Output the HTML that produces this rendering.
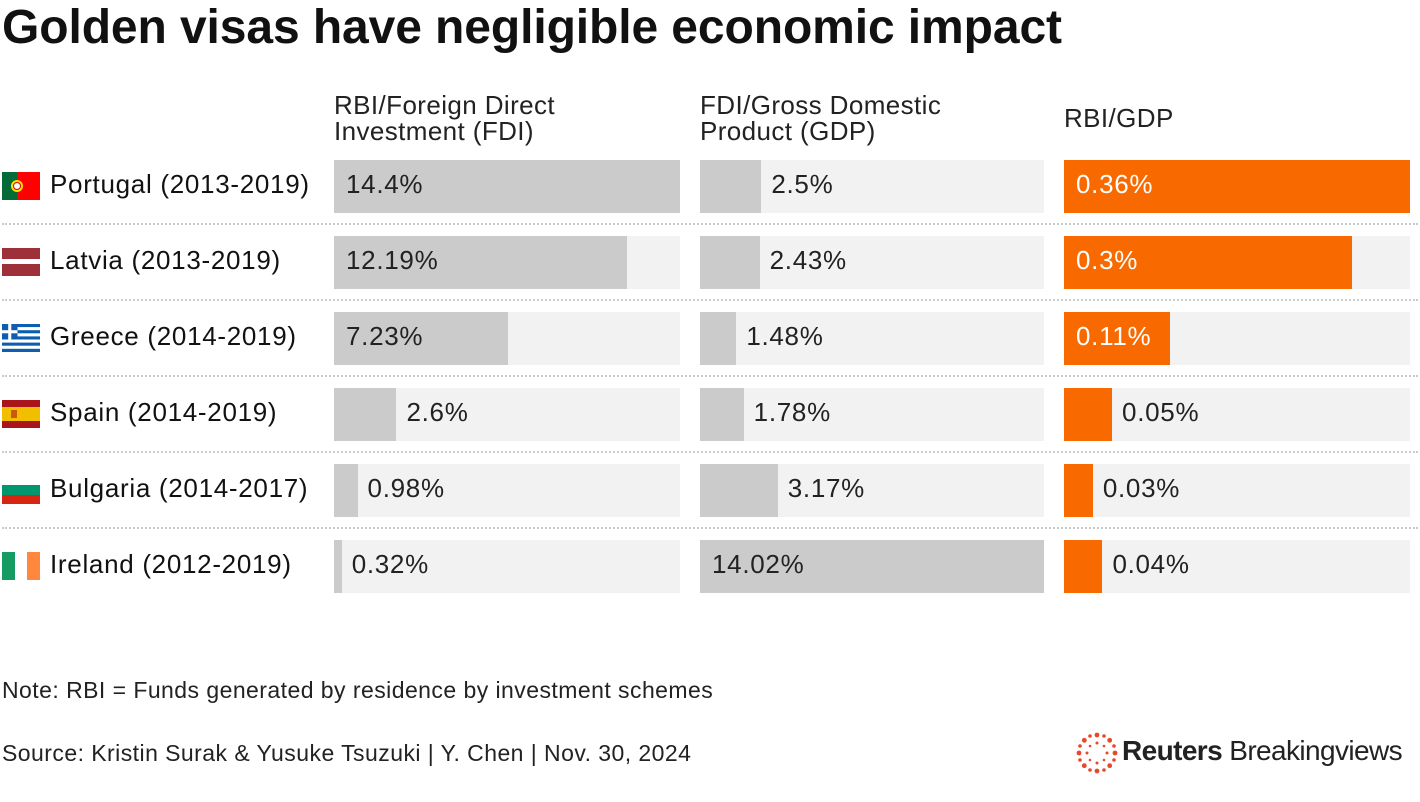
<!DOCTYPE html>
<html><head><meta charset="utf-8"><style>
body{margin:0;width:1420px;height:802px;background:#fff;font-family:"Liberation Sans",Arial,sans-serif;color:#111;position:relative;overflow:hidden}
.abs{position:absolute}
.title{left:2px;top:0px;font-size:48px;font-weight:bold;letter-spacing:-0.1px;white-space:nowrap}
.hdr{font-size:26px;line-height:26px;color:#222;letter-spacing:0.4px;white-space:nowrap}
.lab{font-size:26px;white-space:nowrap;letter-spacing:0.7px}
.sep{height:0;border-top:2px dotted #ccc;left:2px;width:1416px}
.foot{font-size:23px;color:#222;white-space:nowrap;letter-spacing:0.45px}
</style></head><body>
<div class="abs title">Golden visas have negligible economic impact</div>
<div class="abs hdr" style="left:334px;top:92px">RBI/Foreign Direct<br>Investment (FDI)</div>
<div class="abs hdr" style="left:700px;top:92px">FDI/Gross Domestic<br>Product (GDP)</div>
<div class="abs hdr" style="left:1064px;top:105px">RBI/GDP</div>
<div id="chart"></div>
<div class="abs foot" style="left:2px;top:677px">Note: RBI = Funds generated by residence by investment schemes</div>
<div class="abs foot" style="left:2px;top:740px">Source: Kristin Surak &amp; Yusuke Tsuzuki | Y. Chen | Nov. 30, 2024</div>
<div class="abs" style="left:1076px;top:732px">
<svg width="42" height="42" viewBox="-21 -21 42 42"><g fill="#e8472b">
<circle r="2.4" cx="0" cy="-18"/><circle r="2.4" cx="12.7" cy="-12.7"/><circle r="2.4" cx="18" cy="0"/><circle r="2.4" cx="12.7" cy="12.7"/><circle r="2.4" cx="0" cy="18"/><circle r="2.4" cx="-12.7" cy="12.7"/><circle r="2.4" cx="-18" cy="0"/><circle r="2.4" cx="-12.7" cy="-12.7"/>
<circle r="1.8" cx="7" cy="-17"/><circle r="1.8" cx="17" cy="-7"/><circle r="1.8" cx="17" cy="7"/><circle r="1.8" cx="7" cy="17"/><circle r="1.8" cx="-7" cy="17"/><circle r="1.8" cx="-17" cy="7"/><circle r="1.8" cx="-17" cy="-7"/><circle r="1.8" cx="-7" cy="-17"/>
<circle r="1.5" cx="0" cy="-10"/><circle r="1.5" cx="10" cy="0"/><circle r="1.5" cx="0" cy="10"/><circle r="1.5" cx="-10" cy="0"/><circle r="1.3" cx="7" cy="-7"/><circle r="1.3" cx="7" cy="7"/><circle r="1.3" cx="-7" cy="7"/><circle r="1.3" cx="-7" cy="-7"/></g></svg></div>
<div class="abs" style="left:1122px;top:735px;font-size:28px;letter-spacing:-0.6px;color:#222;white-space:nowrap"><b>Reuters</b> Breakingviews</div>
<script>
const countries=["Portugal (2013-2019)","Latvia (2013-2019)","Greece (2014-2019)","Spain (2014-2019)","Bulgaria (2014-2017)","Ireland (2012-2019)"];
const rbiFdi=[14.4,12.19,7.23,2.6,0.98,0.32];
const rbiFdiLabels=["14.4%","12.19%","7.23%","2.6%","0.98%","0.32%"];
const fdiGdp=[2.5,2.43,1.48,1.78,3.17,14.02];
const fdiGdpLabels=["2.5%","2.43%","1.48%","1.78%","3.17%","14.02%"];
const rbiGdp=[0.36,0.3,0.11,0.05,0.03,0.04];
const rbiGdpLabels=["0.36%","0.3%","0.11%","0.05%","0.03%","0.04%"];
const flags=[
'<rect width="15" height="28" fill="#046a38"/><rect x="15" width="23" height="28" fill="#f00"/><circle cx="15" cy="14" r="6" fill="#ffe000"/><circle cx="15" cy="14" r="3.5" fill="#fff" stroke="#d00"/>',
'<rect width="38" height="28" fill="#9e3039"/><rect y="11" width="38" height="5" fill="#fff"/>',
'<rect width="38" height="28" fill="#0d5eaf"/><rect y="3.1" width="38" height="3.1" fill="#fff"/><rect y="9.3" width="38" height="3.1" fill="#fff"/><rect y="15.5" width="38" height="3.1" fill="#fff"/><rect y="21.7" width="38" height="3.1" fill="#fff"/><rect width="15.5" height="15.5" fill="#0d5eaf"/><rect x="6.2" width="3.1" height="15.5" fill="#fff"/><rect y="6.2" width="15.5" height="3.1" fill="#fff"/>',
'<rect width="38" height="28" fill="#aa151b"/><rect y="7" width="38" height="14" fill="#f1bf00"/><rect x="9" y="10" width="6" height="8" fill="#ad1519" opacity=".6"/>',
'<rect width="38" height="9" fill="#fff"/><rect y="9" width="38" height="10" fill="#00966e"/><rect y="19" width="38" height="9" fill="#d62612"/>',
'<rect width="13" height="28" fill="#169b62"/><rect x="13" width="12" height="28" fill="#fff"/><rect x="25" width="13" height="28" fill="#ff883e"/>'];
const cols=[{x:334,w:346,max:14.4,vals:rbiFdi,labs:rbiFdiLabels,col:"#cbcbcb",name:"rbi-fdi"},
{x:700,w:344,max:14.02,vals:fdiGdp,labs:fdiGdpLabels,col:"#cbcbcb",name:"fdi-gdp"},
{x:1064,w:346,max:0.36,vals:rbiGdp,labs:rbiGdpLabels,col:"#f86a00",name:"rbi-gdp"}];
const root=document.getElementById('chart');
function mk(css,html){const d=document.createElement('div');d.className='abs';d.style.cssText=css;if(html!==undefined)d.innerHTML=html;root.appendChild(d);return d;}
countries.forEach((c,i)=>{
  const top=160+i*76;
  const f=mk(`left:2px;top:${top+12}px;width:38px;height:28px`,`<svg width="38" height="28">${flags[i]}</svg>`);
  
  
  const l=mk(`left:50px;top:${top+9}px`,c);l.classList.add('lab');
  
  
  if(i>0){const s=mk(`top:${top-13}px`);s.classList.add('sep');
  
  }
  cols.forEach(cl=>{
    const bg=mk(`left:${cl.x}px;top:${top}px;width:${cl.w}px;height:53px;background:#f2f2f2`);
    
    
    const bw=cl.vals[i]/cl.max*cl.w;
    const b=mk(`left:${cl.x}px;top:${top}px;width:${bw}px;height:53px;background:${cl.col}`);
    
    
    const inside=bw>100;
    const t=mk(`left:${inside?cl.x+12:cl.x+bw+10}px;top:${top+9}px;color:${inside&&cl.col!="#cbcbcb"?"#fff":"#222"}`,cl.labs[i]);
    t.classList.add('lab');
    
    
  });
});
</script>
</body></html>
